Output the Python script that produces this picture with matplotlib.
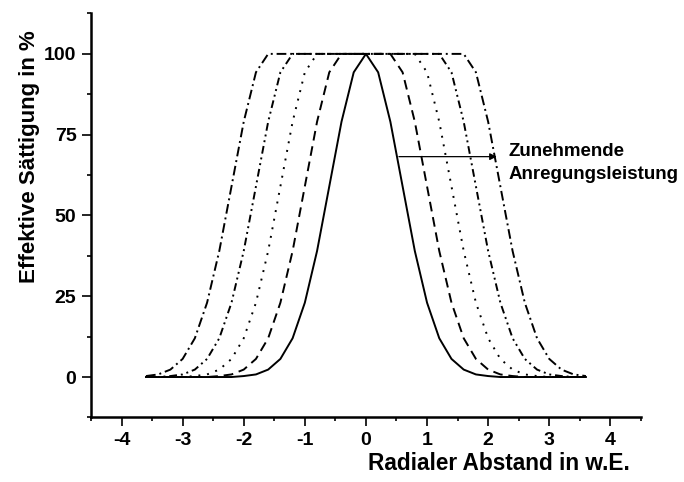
import matplotlib
matplotlib.use("Agg")
import matplotlib.pyplot as plt
from matplotlib.ticker import MultipleLocator

plt.rcParams['font.family'] = ['Liberation Sans', 'DejaVu Sans']
plt.rcParams['font.weight'] = 'bold'
plt.rcParams['axes.unicode_minus'] = False

# radial distance (w.E.), step 0.2 from -3.6 to 3.6
x = [round(-3.6 + 0.2 * j, 1) for j in range(37)]

solid = [0, 0, 0, 0, 0, 0, 0, 0, 0.3, 0.8, 2.3, 5.6, 12, 23, 39, 59, 79, 94.3, 100,
         94.3, 79, 59, 39, 23, 12, 5.6, 2.3, 0.8, 0.3, 0, 0, 0, 0, 0, 0, 0, 0]
dashed = [0, 0, 0, 0, 0, 0, 0.3, 0.8, 2.3, 5.6, 12, 23, 39, 59, 79, 94.3, 100, 100, 100,
          100, 100, 94.3, 79, 59, 39, 23, 12, 5.6, 2.3, 0.8, 0.3, 0, 0, 0, 0, 0, 0]
dotted = [0, 0, 0, 0, 0.3, 0.8, 2.3, 5.6, 12, 23, 39, 59, 79, 94.3, 100, 100, 100, 100, 100,
          100, 100, 100, 100, 94.3, 79, 59, 39, 23, 12, 5.6, 2.3, 0.8, 0.3, 0, 0, 0, 0]
dashdotdot = [0, 0, 0.3, 0.8, 2.3, 5.6, 12, 23, 39, 59, 79, 94.3, 100, 100, 100, 100, 100, 100, 100,
              100, 100, 100, 100, 100, 100, 94.3, 79, 59, 39, 23, 12, 5.6, 2.3, 0.8, 0.3, 0, 0]
dashdot = [0.3, 0.8, 2.3, 5.6, 12, 23, 39, 59, 79, 94.3, 100, 100, 100, 100, 100, 100, 100, 100, 100,
           100, 100, 100, 100, 100, 100, 100, 100, 94.3, 79, 59, 39, 23, 12, 5.6, 2.3, 0.8, 0.3]

series = [solid, dashed, dotted, dashdotdot, dashdot]
styles = ['-', (0, (5, 3)), (0, (1, 3.5)), (0, (4, 2, 1, 2, 1, 2)), (0, (5, 2, 1, 2))]

xticks = [-4, -3, -2, -1, 0, 1, 2, 3, 4]
yticks = [0, 25, 50, 75, 100]

fig = plt.figure(figsize=(6.84, 4.82), dpi=100)
ax = fig.add_axes([0.133, 0.134, 0.804, 0.838])

for ys, ls in zip(series, styles):
    ax.plot(x, ys, color='black', linestyle=ls, linewidth=1.4)

ax.set_xlim(-4.5, 4.5)
ax.set_ylim(-12.5, 112.5)
ax.set_xticks(xticks)
ax.set_yticks(yticks)
ax.xaxis.set_minor_locator(MultipleLocator(0.5))
ax.yaxis.set_minor_locator(MultipleLocator(12.5))
ax.tick_params(which='major', length=6.5, width=1.2, labelsize=14, pad=4)
ax.tick_params(which='minor', length=3.2, width=1.2)
for lab in ax.get_xticklabels() + ax.get_yticklabels():
    lab.set_fontweight('bold')

for s in ['top', 'right']:
    ax.spines[s].set_visible(False)
for s in ['left', 'bottom']:
    ax.spines[s].set_linewidth(1.8)

fig.text(630 / 684, 1 - 463 / 482, 'Radialer Abstand in w.E.', fontsize=16.3,
         fontweight='bold', ha='right', va='center')
fig.text(30 / 684, 1 - 157 / 482, 'Effektive Sättigung in %', fontsize=16,
         fontweight='bold', ha='center', va='center', rotation=90)

ax.annotate('', xy=(2.14, 68.2), xytext=(0.54, 68.2),
            arrowprops=dict(arrowstyle='-|>', color='black', lw=0.9, mutation_scale=10,
                            shrinkA=0, shrinkB=0))
ax.text(2.33, 66.3, 'Zunehmende\nAnregungsleistung', fontsize=13.5, fontweight='bold',
        ha='left', va='center', linespacing=1.5)

fig.savefig('out.png', dpi=100)
